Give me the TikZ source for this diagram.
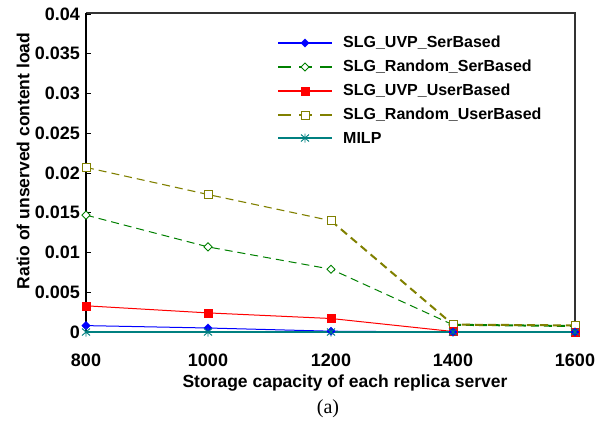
\documentclass[tikz,border=0pt]{standalone}
\usepackage{fontspec}
\setmainfont{Liberation Sans}
\newfontfamily\capfont{Liberation Serif}
\usetikzlibrary{shapes.geometric}
\definecolor{cblue}{RGB}{0,0,255}
\definecolor{cgreen}{RGB}{0,128,0}
\definecolor{cred}{RGB}{255,0,0}
\definecolor{colive}{RGB}{128,128,0}
\definecolor{cteal}{RGB}{0,128,128}
\tikzset{
  ticklbl/.style={font=\fontsize{18}{21}\selectfont\bfseries, inner sep=0pt},
  axlbl/.style={font=\fontsize{17.5}{21}\selectfont\bfseries, inner sep=0pt},
  leglbl/.style={font=\fontsize{16}{19}\selectfont\bfseries, inner sep=0pt, anchor=west},
  sblue/.style={draw=cblue, line width=1pt},
  sgreen/.style={draw=cgreen, line width=1pt, dash pattern=on 8pt off 5pt},
  sred/.style={draw=cred, line width=1pt},
  solive/.style={draw=colive, line width=1.1pt, dash pattern=on 8pt off 5pt},
  steal/.style={draw=cteal, line width=1.2pt},
  legdash/.style={dash pattern=on 13pt off 8pt, line width=1.3pt},
  mdia/.style={diamond, draw=cblue, fill=cblue, minimum size=8.5pt, inner sep=0pt},
  mdiao/.style={diamond, draw=cgreen, fill=white, line width=0.9pt, minimum size=8.5pt, inner sep=0pt},
  msq/.style={rectangle, draw=cred, fill=cred, minimum size=8pt, inner sep=0pt},
  msqo/.style={rectangle, draw=colive, fill=white, line width=1pt, minimum size=8pt, inner sep=0pt},
  astm/.pic={\draw[cteal, line width=0.9pt] (0,-4.5)--(0,4.5) (-4,-3.5)--(4,3.5) (-4,3.5)--(4,-3.5);},
  frame/.style={draw=black!80, line width=1.2pt}
}
\begin{document}
\begin{tikzpicture}[x=1pt,y=-1pt]
\useasboundingbox (0,0) rectangle (614,426);
% plot frame
\coordinate (TL) at (86,13);
\coordinate (TR) at (575,13);
\coordinate (BR) at (575,332);
\coordinate (BL) at (86,332);
\draw[frame] (TL) -- (TR) -- (BR);
\draw[black, line width=1.5pt] (BL) -- (TL);
% y ticks and labels
\foreach \v/\l in {0/0,1/0.005,2/0.01,3/0.015,4/0.02,5/0.025,6/0.03,7/0.035,8/0.04}{
  \pgfmathsetmacro{\yy}{332-39.75*\v}
  \coordinate (yt\v) at (86,\yy);
  \draw[black, line width=0.8pt] (yt\v) -- ++(5,0);
  \node[ticklbl, anchor=east] (yl\v) at (80,\yy) {\l};
}
% x tick labels
\foreach \xx/\l in {86/800,208/1000,331/1200,453/1400,575/1600}{
  \node[ticklbl] (xl\l) at (\xx,360) {\l};
}
\node[axlbl] (xlab) at (345,383) {Storage capacity of each replica server};
\node[axlbl, rotate=90] (ylab) at (23,161) {Ratio of unserved content load};
\node[font=\capfont\fontsize{20}{24}\selectfont, inner sep=0pt] (cap) at (328,409) {(a)};
% data coordinates
\coordinate (b1) at (86,325.6); \coordinate (b2) at (208,328); \coordinate (b3) at (331,331.2); \coordinate (b4) at (453,332); \coordinate (b5) at (575,332);
\coordinate (g1) at (86,215.1); \coordinate (g2) at (208,246.9); \coordinate (g3) at (331,269.2); \coordinate (g4) at (453,324.8); \coordinate (g5) at (575,326.0);
\coordinate (r1) at (86,305.8); \coordinate (r2) at (208,312.9); \coordinate (r3) at (331,318.5); \coordinate (r4) at (453,331.5); \coordinate (r5) at (575,332);
\coordinate (o1) at (86,167.4); \coordinate (o2) at (208,194.5); \coordinate (o3) at (331,220.7); \coordinate (o4) at (453,324.6); \coordinate (o5) at (575,325.4);
\coordinate (m1) at (86,332); \coordinate (m2) at (208,332); \coordinate (m3) at (331,332); \coordinate (m4) at (453,332); \coordinate (m5) at (575,332);
% series
\draw[sgreen] (g1)--(g2)--(g3)--(g4);
\draw[sgreen, line width=2pt] (g4)--(g5);
\draw[solive] (o1)--(o2)--(o3);
\draw[solive, line width=2pt] (o3)--(o4)--(o5);
\draw[sred] (r1)--(r2)--(r3)--(r4)--(r5);
\draw[sblue] (b1)--(b2)--(b3)--(b4)--(b5);
\draw[steal] (m1)--(m2)--(m3)--(m4)--(m5);
\foreach \i in {1,...,5}{
  \node[mdiao] at (g\i) {};
  \node[msqo] at (o\i) {};
  \node[msq] at (r\i) {};
  \node[mdia] at (b\i) {};
  \pic at (m\i) {astm};
}
% legend
\foreach \r/\yy in {1/43,2/67,3/91,4/115,5/138}{
  \coordinate (la\r) at (278,\yy);
  \coordinate (lm\r) at (305,\yy);
  \coordinate (lb\r) at (332,\yy);
}
\draw[sblue, line width=1.3pt] (la1)--(lb1); \node[mdia] at (lm1) {};
\draw[sgreen, legdash] (la2)--(lb2); \node[mdiao] at (lm2) {};
\draw[sred, line width=1.3pt] (la3)--(lb3); \node[msq] at (lm3) {};
\draw[solive, legdash] (la4)--(lb4); \node[msqo] at (lm4) {};
\draw[steal, line width=1.3pt] (la5)--(lb5); \pic at (lm5) {astm};
\node[leglbl] (t1) at (343,43) {SLG\_UVP\_SerBased};
\node[leglbl] (t2) at (343,67) {SLG\_Random\_SerBased};
\node[leglbl] (t3) at (343,91) {SLG\_UVP\_UserBased};
\node[leglbl] (t4) at (343,115) {SLG\_Random\_UserBased};
\node[leglbl] (t5) at (343,138) {MILP};
\end{tikzpicture}
\end{document}
